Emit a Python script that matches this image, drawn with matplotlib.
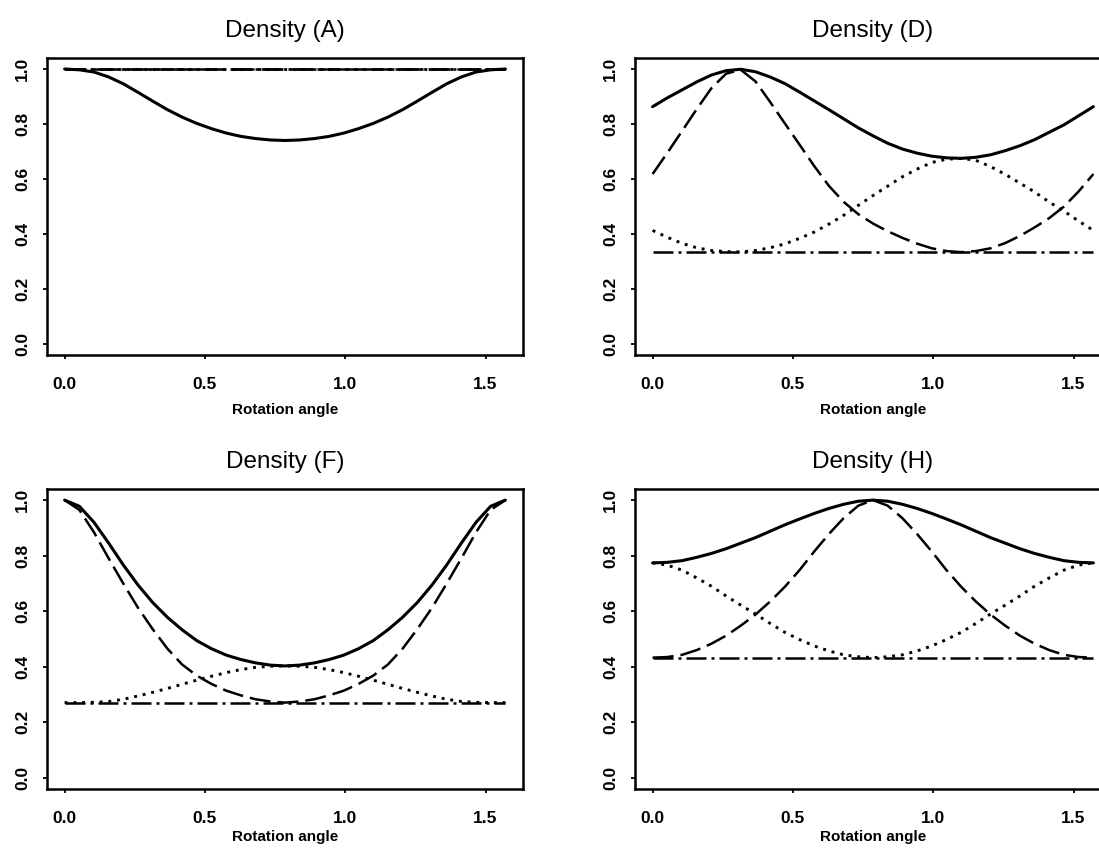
import matplotlib
matplotlib.use("Agg")
import matplotlib.pyplot as plt
import numpy as np

plt.rcParams['font.family'] = ['Liberation Sans', 'DejaVu Sans']

# rotation angle grid in degrees (0..90 step 3)
angles_deg = [0, 3, 6, 9, 12, 15, 18, 21, 24, 27, 30, 33, 36, 39, 42, 45,
              48, 51, 54, 57, 60, 63, 66, 69, 72, 75, 78, 81, 84, 87, 90]

x_ticks = [0.0, 0.5, 1.0, 1.5]
x_ticklabels = ["0.0", "0.5", "1.0", "1.5"]
y_ticks = [0.0, 0.2, 0.4, 0.6, 0.8, 1.0]
y_ticklabels = ["0.0", "0.2", "0.4", "0.6", "0.8", "1.0"]

# Density (A)
A_solid = [1.000, 0.997, 0.989, 0.971, 0.946, 0.915, 0.883, 0.852, 0.825, 0.802, 0.783,
           0.767, 0.755, 0.747, 0.742, 0.740, 0.742, 0.747, 0.755, 0.767, 0.783, 0.802,
           0.825, 0.852, 0.883, 0.915, 0.946, 0.971, 0.989, 0.997, 1.000]
A_dashed = [1.0] * 31
A_dotted = [1.0] * 31
A_dashdot = [1.0] * 31

# Density (D)
D_solid = [0.863, 0.895, 0.924, 0.953, 0.978, 0.994, 0.999, 0.990, 0.971, 0.947, 0.916,
           0.884, 0.852, 0.819, 0.786, 0.757, 0.730, 0.709, 0.694, 0.683, 0.677, 0.675,
           0.679, 0.688, 0.703, 0.721, 0.743, 0.770, 0.797, 0.830, 0.863]
D_dashed = [0.618, 0.695, 0.774, 0.854, 0.930, 0.983, 0.997, 0.955, 0.880, 0.802, 0.725,
            0.647, 0.575, 0.517, 0.472, 0.438, 0.410, 0.386, 0.365, 0.348, 0.338, 0.334,
            0.338, 0.348, 0.367, 0.393, 0.424, 0.458, 0.500, 0.555, 0.618]
D_dotted = [0.413, 0.388, 0.366, 0.350, 0.340, 0.336, 0.335, 0.340, 0.350, 0.364, 0.384,
            0.407, 0.436, 0.468, 0.504, 0.540, 0.574, 0.608, 0.636, 0.660, 0.672, 0.675,
            0.668, 0.645, 0.617, 0.585, 0.553, 0.516, 0.483, 0.447, 0.413]
D_dashdot = [0.335] * 31

# Density (F)
F_solid = [1.000, 0.978, 0.920, 0.845, 0.766, 0.694, 0.631, 0.578, 0.533, 0.494, 0.465,
           0.442, 0.426, 0.414, 0.406, 0.403, 0.406, 0.414, 0.426, 0.442, 0.465, 0.494,
           0.533, 0.578, 0.631, 0.694, 0.766, 0.845, 0.920, 0.978, 1.000]
F_dashed = [1.000, 0.965, 0.884, 0.790, 0.699, 0.612, 0.535, 0.465, 0.408, 0.368, 0.338,
            0.314, 0.297, 0.283, 0.275, 0.271, 0.275, 0.283, 0.297, 0.314, 0.338, 0.368,
            0.408, 0.465, 0.535, 0.612, 0.699, 0.790, 0.884, 0.965, 1.000]
F_dotted = [0.271, 0.271, 0.272, 0.275, 0.283, 0.295, 0.308, 0.322, 0.337, 0.352, 0.366,
            0.379, 0.390, 0.398, 0.402, 0.403, 0.402, 0.398, 0.390, 0.379, 0.366, 0.352,
            0.337, 0.322, 0.308, 0.295, 0.283, 0.275, 0.272, 0.271, 0.271]
F_dashdot = [0.271] * 31

# Density (H)
H_solid = [0.774, 0.776, 0.782, 0.794, 0.808, 0.825, 0.845, 0.865, 0.888, 0.911, 0.932,
           0.952, 0.970, 0.985, 0.996, 1.000, 0.996, 0.985, 0.970, 0.952, 0.932, 0.911,
           0.888, 0.865, 0.845, 0.825, 0.808, 0.794, 0.782, 0.776, 0.774]
H_dashed = [0.433, 0.435, 0.443, 0.460, 0.483, 0.512, 0.548, 0.588, 0.635, 0.688, 0.748,
            0.815, 0.878, 0.935, 0.980, 1.000, 0.980, 0.935, 0.878, 0.815, 0.748, 0.688,
            0.635, 0.588, 0.548, 0.512, 0.483, 0.460, 0.443, 0.435, 0.433]
H_dotted = [0.774, 0.766, 0.748, 0.720, 0.690, 0.655, 0.622, 0.590, 0.556, 0.524, 0.498,
            0.475, 0.457, 0.443, 0.436, 0.433, 0.436, 0.443, 0.457, 0.475, 0.498, 0.524,
            0.556, 0.590, 0.622, 0.655, 0.690, 0.720, 0.748, 0.766, 0.774]
H_dashdot = [0.433] * 31

titles = ["Density (A)", "Density (D)", "Density (F)", "Density (H)"]
xlabel = "Rotation angle"

fig = plt.figure(figsize=(10.99, 8.48), dpi=100)

W, H = 1099.0, 848.0
col_left = [47 / W, 635 / W]
col_w = 476 / W
row_top = [58, 489]
row_bot = [355, 789]
row_labelpad = [7.5, 3.0]

panels = [
    (0, 0, titles[0], A_solid, A_dashed, A_dotted, A_dashdot),
    (0, 1, titles[1], D_solid, D_dashed, D_dotted, D_dashdot),
    (1, 0, titles[2], F_solid, F_dashed, F_dotted, F_dashdot),
    (1, 1, titles[3], H_solid, H_dashed, H_dotted, H_dashdot),
]

x = np.radians(angles_deg)

for r, c, title, solid, dashed, dotted, dashdot in panels:
    rect = [col_left[c], 1 - row_bot[r] / H, col_w, (row_bot[r] - row_top[r]) / H]
    ax = fig.add_axes(rect)
    ax.plot(x, dashdot, color='black', lw=1.8, linestyle=(0, (8, 2, 1.2, 2)),
            dash_capstyle='butt')
    ax.plot(x, dotted, color='black', lw=2.1, linestyle=(0, (1, 2.0)),
            dash_capstyle='butt')
    ax.plot(x, dashed, color='black', lw=1.8, linestyle=(0, (8.4, 2.8)),
            dash_capstyle='butt')
    ax.plot(x, solid, color='black', lw=2.2, solid_capstyle='round')
    ax.set_xlim(-0.0628, 1.6336)
    ax.set_ylim(-0.04, 1.04)
    ax.set_xticks(x_ticks)
    ax.set_xticklabels(x_ticklabels, fontweight='bold', fontsize=12.5)
    ax.set_yticks(y_ticks)
    ax.set_yticklabels(y_ticklabels, fontweight='bold', fontsize=12.5,
                       rotation=90, va='center')
    ax.tick_params(axis='both', direction='out', length=3, width=1.3, color='black')
    ax.tick_params(axis='x', pad=13)
    ax.tick_params(axis='y', pad=9)
    for sp in ax.spines.values():
        sp.set_linewidth(1.8)
        sp.set_color('black')
    ax.set_title(title, fontsize=17.5, pad=15)
    ax.set_xlabel(xlabel, fontsize=11, fontweight='bold', labelpad=row_labelpad[r])

fig.savefig("out.png", dpi=100, facecolor='white')
